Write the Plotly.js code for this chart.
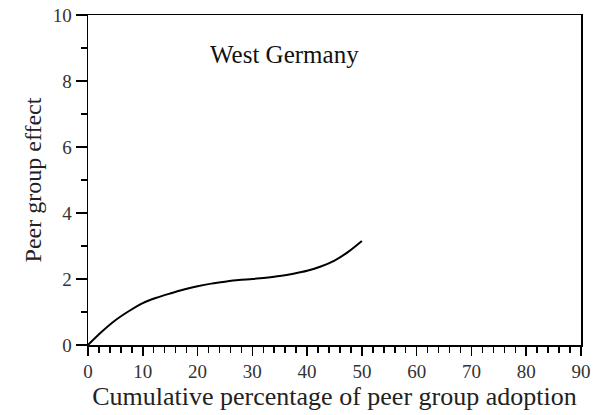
<!DOCTYPE html>
<html>
<head>
<meta charset="utf-8">
<script src="https://cdn.plot.ly/plotly-3.0.1.min.js"></script>
<style>html,body{margin:0;padding:0;background:#fff;}#chart{width:606px;height:415px;}</style>
</head>
<body>
<div id="chart"></div>
<script>
var adoptionPct = [0, 2.5, 5, 7.5, 10, 12.5, 15, 17.5, 20, 22.5, 25, 27.5, 30, 32.5, 35, 37.5, 40, 42.5, 45, 47.5, 50];
var peerEffect = [0, 0.40, 0.75, 1.03, 1.27, 1.43, 1.56, 1.68, 1.78, 1.86, 1.92, 1.97, 2.00, 2.04, 2.09, 2.16, 2.25, 2.38, 2.56, 2.82, 3.15];
var xTicks = [0, 10, 20, 30, 40, 50, 60, 70, 80, 90];
var yTicks = [0, 2, 4, 6, 8, 10];
var regionLabel = "West Germany";
var xTitle = "Cumulative percentage of peer group adoption";
var yTitle = "Peer group effect";

var font = "Liberation Serif, Times New Roman, serif";
var trace = {
  x: adoptionPct, y: peerEffect, type: "scatter", mode: "lines",
  line: {color: "#000", width: 2, shape: "spline", smoothing: 0.8}, hoverinfo: "skip"
};
var layout = {
  width: 606, height: 415,
  margin: {l: 88, r: 25, t: 15, b: 70},
  paper_bgcolor: "#fff", plot_bgcolor: "#fff",
  showlegend: false,
  font: {family: font, color: "#000", size: 19},
  xaxis: {
    range: [0, 90], tickvals: xTicks, ticks: "outside", ticklen: 9, tickwidth: 1.5, tickcolor: "#000",
    showline: true, linecolor: "#000", linewidth: 1.5, mirror: true, showgrid: false, zeroline: false,
    tickfont: {family: font, size: 19, color: "#333"},
    minor: {dtick: 2, ticks: "outside", ticklen: 6, tickwidth: 1.5, tickcolor: "#000", showgrid: false},
    title: {text: xTitle, font: {family: font, size: 26, color: "#222"}, standoff: 3}
  },
  yaxis: {
    range: [0, 10], tickvals: yTicks, ticks: "outside", ticklen: 11, tickwidth: 1.5, tickcolor: "#000",
    showline: true, linecolor: "#000", linewidth: 1.5, mirror: true, showgrid: false, zeroline: false,
    tickfont: {family: font, size: 19, color: "#333"},
    minor: {dtick: 1, ticks: "outside", ticklen: 6, tickwidth: 1.5, tickcolor: "#000", showgrid: false},
    title: {text: yTitle, font: {family: font, size: 24, color: "#222"}, standoff: 4}
  },
  annotations: [{
    x: 35.9, y: 8.8, xref: "x", yref: "y", text: regionLabel, showarrow: false,
    font: {family: font, size: 25, color: "#111"}
  }]
};
Plotly.newPlot("chart", [trace], layout, {displayModeBar: false, staticPlot: true});
</script>
</body>
</html>
